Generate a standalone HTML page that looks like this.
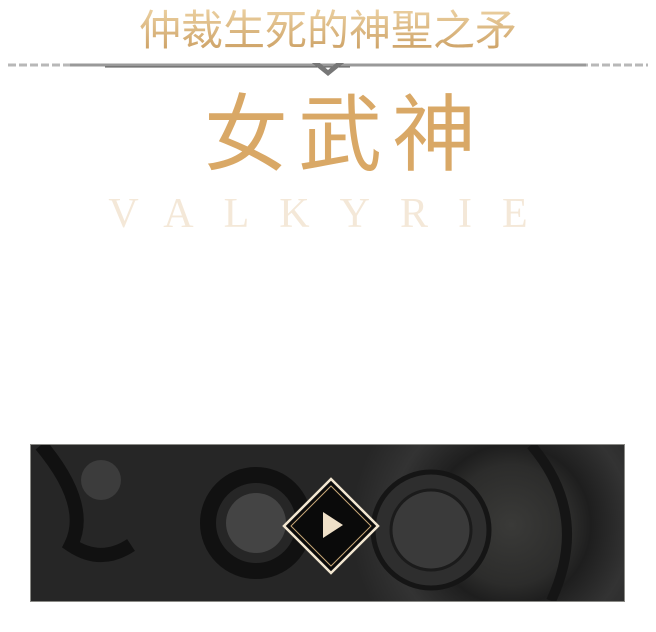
<!DOCTYPE html>
<html><head><meta charset="utf-8"><style>
html,body{margin:0;padding:0;background:#fff;width:656px;height:632px;overflow:hidden;position:relative}
.abs{position:absolute}
#sub{left:0;width:656px;top:-3px;text-align:center;font:42px "Liberation Sans","Noto Sans CJK SC",sans-serif;color:#d6ad74;background:linear-gradient(#f3dcb0,#c89a5c);-webkit-background-clip:text;background-clip:text;-webkit-text-fill-color:transparent}
#title{left:0;width:656px;top:68px;text-align:center;font:84px "Liberation Sans","Noto Sans CJK SC",sans-serif;color:#d9a866;letter-spacing:10px;padding-left:34px;box-sizing:border-box}
#en{left:0;width:656px;top:190px;text-align:center;font:42px "Liberation Serif",serif;color:#f4e8d8;letter-spacing:30px;padding-left:10px;box-sizing:border-box}
#video{left:30px;top:444px;width:593px;height:156px;border:1px solid #8a8a86;background:radial-gradient(circle at 480px 80px,#3a3a38 0,#2c2c2b 60px,#1e1e1e 80px,#333 120px,#262626 160px),linear-gradient(90deg,#242424,#3a3a39 30%,#2a2a2a 60%,#353535 90%,#2a2a2a);overflow:hidden}
</style></head><body>
<div id="sub" class="abs">仲裁生死的神聖之矛</div>
<svg class="abs" style="left:0;top:56px" width="656" height="22">
<line x1="8" y1="9" x2="648" y2="9" stroke="#b8b8b8" stroke-width="3" stroke-dasharray="8,3"/>
<line x1="70" y1="9" x2="586" y2="9" stroke="#999" stroke-width="3"/>
<line x1="105" y1="11" x2="350" y2="11" stroke="#555" stroke-width="1"/>
<path d="M312 7 L328 20 L344 7 L336 7 L328 14 L320 7 Z" fill="#777"/>
</svg>
<div id="title" class="abs">女武神</div>
<div id="en" class="abs">VALKYRIE</div>
<div id="video" class="abs">
<svg width="593" height="156" style="position:absolute;left:0;top:0">
<circle cx="225" cy="78" r="48" fill="none" stroke="#111" stroke-width="16"/>
<circle cx="225" cy="78" r="30" fill="#444"/>
<circle cx="400" cy="85" r="58" fill="#2e2e2e" stroke="#151515" stroke-width="5"/>
<circle cx="400" cy="85" r="40" fill="#3a3a3a" stroke="#1b1b1b" stroke-width="3"/>
<path d="M10 0 Q60 60 40 100 Q70 120 100 100" fill="none" stroke="#111" stroke-width="14"/>
<circle cx="70" cy="35" r="20" fill="#3c3c3c"/>
<path d="M500 0 Q560 70 520 156" fill="none" stroke="#151515" stroke-width="10"/>
</svg>
</div>
<svg class="abs" style="left:281px;top:476px" width="100" height="100">
<polygon points="50,3 97,50 50,97 3,50" fill="#0a0a0a" stroke="#f2e6d0" stroke-width="2.5"/>
<polygon points="50,10 90,50 50,90 10,50" fill="none" stroke="#c8a878" stroke-width="1"/>
<polygon points="42,36 62,49 42,62" fill="#efe0c8"/>
</svg>
</body></html>
